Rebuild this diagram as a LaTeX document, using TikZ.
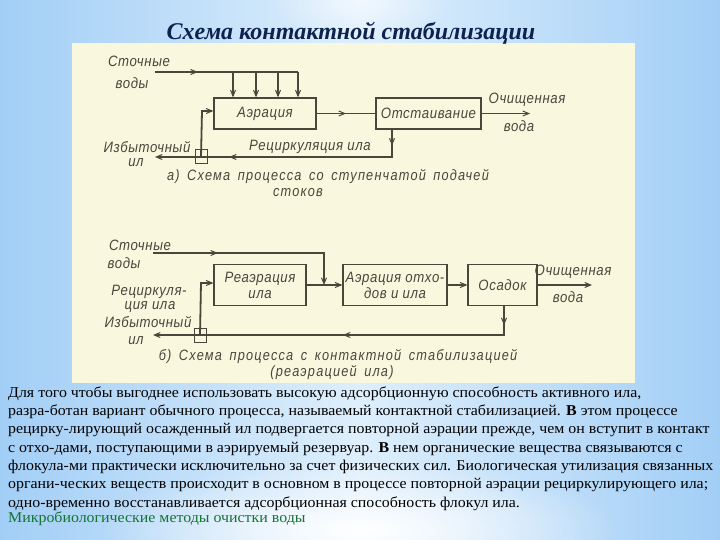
\documentclass[tikz,border=0pt]{standalone}
\usepackage{fontspec}
\setmainfont{Liberation Serif}
\newfontfamily\drawfont[LetterSpace=4,FakeStretch=0.88]{Liberation Sans}
\newfontfamily\capfont[LetterSpace=8,FakeStretch=0.85,WordSpace=1.6]{Liberation Sans}
\newfontfamily\bodyfont[FakeStretch=1.06]{Liberation Serif}
\newfontfamily\titlefont{Liberation Serif}
\usetikzlibrary{arrows.meta,decorations.markings,fadings}
\tikzfading[name=glowfade, inner color=transparent!0, outer color=transparent!100]
\definecolor{bgblue}{RGB}{162,206,246}
\definecolor{bgmid}{RGB}{222,239,252}
\definecolor{panel}{RGB}{249,247,222}
\definecolor{inkc}{RGB}{74,70,60}
\definecolor{titlec}{RGB}{14,34,80}
\definecolor{greenc}{RGB}{20,115,50}
\begin{document}
\begin{tikzpicture}[x=1pt,y=-1pt,
  ink/.style={draw=inkc, line width=1.8pt},
  tip/.tip={Straight Barb[length=6pt,width=5pt,line width=1pt]},
  tipat/.style={postaction={decorate,decoration={markings,mark=at position #1 with {\arrow{tip}}}}},
  box/.style={draw=inkc, line width=1.3pt, inner sep=0pt, align=center,
    font=\drawfont\itshape\fontsize{15}{16}\selectfont, text=inkc},
  lbl/.style={inner sep=0pt, align=center, text=inkc,
    font=\drawfont\itshape\fontsize{15}{16}\selectfont},
  caplbl/.style={inner sep=0pt, align=center, text=inkc,
    font=\capfont\itshape\fontsize{15}{16}\selectfont},
  sq/.style={draw=inkc, line width=1pt, inner sep=0pt, minimum width=12pt, minimum height=14pt},
  bline/.style={anchor=base west, inner sep=0pt, text=black,
    font=\bodyfont\fontsize{15}{18}\selectfont}]
% background
\useasboundingbox (0,0) rectangle (720,540);
\shade[left color=bgblue, right color=bgblue, middle color=bgmid] (0,0) rectangle (720,540);
\fill[white, path fading=glowfade] (360,530) ellipse (260pt and 70pt);
\fill[white, path fading=glowfade, opacity=0.6] (360,0) ellipse (90pt and 40pt);
% panel
\fill[panel] (72,43) rectangle (635,383);
% title
\node[font=\titlefont\bfseries\itshape\fontsize{24}{28}\selectfont, text=titlec, inner sep=0pt] (title) at (351,33) {Схема контактной стабилизации};

% ---------- diagram a ----------
\node[box, minimum width=102pt, minimum height=31pt] (aer) at (265,113.5) {Аэрация};
\node[box, minimum width=105pt, minimum height=31pt] (ots) at (428.5,113.5) {Отстаивание};
\node[sq] (sqA) at (201,157) {};
\coordinate (inA) at (155,72);
\coordinate (d1) at (233,72);
\coordinate (d2) at (256,72);
\coordinate (d3) at (278,72);
\coordinate (d4) at (298,72);
\coordinate (outA) at (530,113.5);
\coordinate (rA) at (392,157);
\coordinate (exA) at (155,157);
\coordinate (rtA) at (202,111);
\draw[ink, tipat=0.3] (inA) -- (d4);
\foreach \d in {d1,d2,d3,d4} \draw[ink,-tip] (\d) -- (\d |- aer.north);
\draw[ink, tipat=0.5] (aer) -- (ots);
\draw[ink,-tip] (ots) -- (outA);
\draw[ink, -tip, tipat=0.06, tipat=0.72] (ots.south -| rA) -- (rA) -- (exA);
\draw[ink, -tip] (sqA.center |- rA) -- (rtA) -- (aer.west |- rtA);
\node[lbl] (sA1) at (139,61) {Сточные};
\node[lbl] (sA2) at (132,83) {воды};
\node[lbl] (iA1) at (147,147) {Избыточный};
\node[lbl] (iA2) at (136,163) {ил};
\node[lbl] (rcA) at (310,147) {Рециркуляция ила};
\node[lbl] (oA1) at (527,100) {Очищенная};
\node[lbl] (oA2) at (519,126) {вода};
\node[caplbl] (capA1) at (328,177) {а) Схема процесса со ступенчатой подачей};
\node[caplbl] (capA2) at (298,193) {стоков};

% ---------- diagram b ----------
\node[box, minimum width=92pt, minimum height=41pt] (rea) at (260,285) {Реаэрация\\ила};
\node[box, minimum width=104pt, minimum height=41pt] (aer2) at (395,285) {Аэрация отхо-\\дов и ила};
\node[box, minimum width=69pt, minimum height=41pt] (osa) at (502.5,285) {Осадок};
\node[sq] (sqB) at (200,335) {};
\coordinate (inB) at (153,253);
\coordinate (jB) at (324,253);
\coordinate (outB) at (592,285);
\coordinate (rB) at (504,335);
\coordinate (exB) at (153,335);
\coordinate (rtB) at (201,283);
\draw[ink, -tip, tipat=0.32] (inB) -- (jB) -- (jB |- rea.east);
\draw[ink,-tip] (rea) -- (aer2);
\draw[ink,-tip] (aer2) -- (osa);
\draw[ink,-tip] (osa) -- (outB);
\draw[ink, -tip, tipat=0.05, tipat=0.5] (osa.south -| rB) -- (rB) -- (exB);
\draw[ink, -tip] (sqB.center |- rB) -- (rtB) -- (rea.west |- rtB);
\node[lbl] (sB1) at (140,245) {Сточные};
\node[lbl] (sB2) at (124,263) {воды};
\node[lbl] (rcB1) at (149,292) {Рециркуля-};
\node[lbl] (rcB2) at (150,307) {ция ила};
\node[lbl] (iB1) at (148,322) {Избыточный};
\node[lbl] (iB2) at (136,341) {ил};
\node[lbl] (oB1) at (573,272) {Очищенная};
\node[lbl] (oB2) at (568,297) {вода};
\node[caplbl] (capB1) at (338,357) {б) Схема процесса с контактной стабилизацией};
\node[caplbl] (capB2) at (332,373) {(реаэрацией ила)};

% ---------- body text ----------
\node[bline] (t1) at (8,397.3) {Для того чтобы выгоднее использовать высокую адсорбционную способность активного ила,};
\node[bline] (t2) at (8,415.6) {разра-ботан вариант обычного процесса, называемый контактной стабилизацией. \textbf{В} этом процессе};
\node[bline] (t3) at (8,433.9) {рецирку-лирующий осажденный ил подвергается повторной аэрации прежде, чем он вступит в контакт};
\node[bline] (t4) at (8,452.2) {с отхо-дами, поступающими в аэрируемый резервуар. \textbf{В} нем органические вещества связываются с};
\node[bline] (t5) at (8,470.5) {флокула-ми практически исключительно за счет физических сил. Биологическая утилизация связанных};
\node[bline] (t6) at (8,488.8) {органи-ческих веществ происходит в основном в процессе повторной аэрации рециркулирующего ила;};
\node[bline] (t7) at (8,507.1) {одно-временно восстанавливается адсорбционная способность флокул ила.};
\node[bline, text=greenc] (ft) at (8,522.7) {Микробиологические методы очистки воды};
\end{tikzpicture}
\end{document}
